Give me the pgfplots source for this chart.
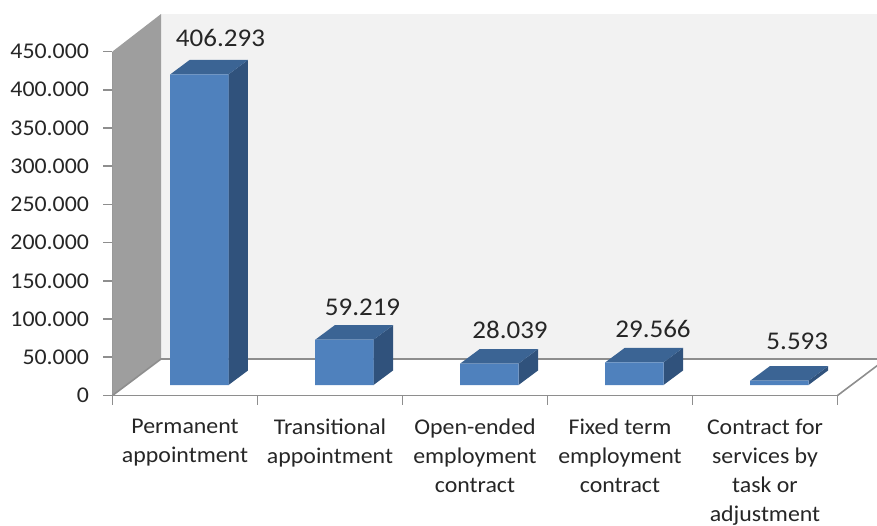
\documentclass[border=0pt]{standalone}
\usepackage{fontspec}
\setmainfont{Carlito}[FakeStretch=1.06]
\usepackage{pgfplots}
\usepackage{pgfplotstable}
\pgfplotsset{compat=1.18}
\definecolor{barfront}{HTML}{4F81BD}
\definecolor{bartop}{HTML}{3B6494}
\definecolor{barside}{HTML}{30527C}
\definecolor{wallback}{HTML}{F2F2F2}
\definecolor{wallleft}{HTML}{9E9E9E}
\definecolor{axisgray}{HTML}{8E8E8E}
\pgfplotstableread{
x v
0.5 406293
1.5 59219
2.5 28039
3.5 29566
4.5 5593
}\bars
\pgfplotstableread{
x v dx dy
0.5 406293 35.5 46.9
1.5 59219 32.5 42.7
2.5 28039 35 44.1
3.5 29566 33 43.9
4.5 5593 32.3 50.2
}\labels
\begin{document}
\begin{tikzpicture}[x=1pt,y=1pt]
\useasboundingbox (0,0) rectangle (877,525);
\clip (0,0) rectangle (877,525);
\begin{axis}[
  at={(112.5pt,129.5pt)}, anchor=south west,
  scale only axis, width=725pt, height=344pt,
  xmin=0, xmax=5, ymin=0, ymax=450000,
  clip=false,
  axis x line*=bottom, axis y line*=left,
  axis line style={draw=axisgray, line width=1.6pt, -},
  ytick={0,50000,...,450000},
  scaled y ticks=false,
  xtick={0.5,1.5,2.5,3.5,4.5},
  xticklabels={Permanent\\appointment,Transitional\\appointment,Open-ended\\employment\\contract,Fixed term\\employment\\contract,Contract for\\services by\\task or\\adjustment},
  minor xtick={0,1,2,3,4,5},
  x tick style={draw=none},
  minor x tick style={draw=axisgray, line width=1.6pt},
  y tick style={draw=axisgray, line width=1.6pt},
  major tick length=9pt, minor tick length=9pt,
  tick align=outside,
  yticklabel style={/pgf/number format/fixed,/pgf/number format/precision=0,/pgf/number format/1000 sep={.},/pgf/number format/assume math mode=true,font=\fontsize{22.5}{25}\selectfont,text=black!85,xshift=-11pt},
  xticklabel style={align=center,anchor=north,inner ysep=0pt,font=\fontsize{22.5}{29.2}\selectfont,text=black!85,yshift=-14pt},
]
% walls and floor
\addplot[fill=wallback,draw=none] coordinates {(0.3345,499000)(5.4,499000)(5.4,47750)(0.3345,47750)} -- cycle;
\addplot[fill=wallleft,draw=none] coordinates {(0,450000)(0.3345,499000)(0.3345,47750)(0,0)} -- cycle;
\addplot[draw=axisgray,line width=1.6pt] coordinates {(0,0)(0.3345,47750)(5.4,47750)};
\addplot[draw=axisgray,line width=1.6pt] coordinates {(5,0)(5.3345,47750)};
% bar sides
\addplot[fill=barside,draw=none,xshift=14.35pt,yshift=10.5pt] coordinates {(0.701,0)(0.701,406293)(0.8355,425261)(0.8355,18968)} -- cycle;
\addplot[fill=barside,draw=none,xshift=14.35pt,yshift=10.5pt] coordinates {(1.701,0)(1.701,59219)(1.8355,78187)(1.8355,18968)} -- cycle;
\addplot[fill=barside,draw=none,xshift=14.35pt,yshift=10.5pt] coordinates {(2.701,0)(2.701,28039)(2.8355,47007)(2.8355,18968)} -- cycle;
\addplot[fill=barside,draw=none,xshift=14.35pt,yshift=10.5pt] coordinates {(3.701,0)(3.701,29566)(3.8355,48534)(3.8355,18968)} -- cycle;
\addplot[fill=barside,draw=none,xshift=14.35pt,yshift=10.5pt] coordinates {(4.701,0)(4.701,5593)(4.8355,24561)(4.8355,18968)} -- cycle;
% bar tops
\addplot[fill=bartop,draw=none,xshift=14.35pt,yshift=10.5pt] coordinates {(0.299,406293)(0.701,406293)(0.8355,425261)(0.4335,425261)} -- cycle;
\addplot[fill=bartop,draw=none,xshift=14.35pt,yshift=10.5pt] coordinates {(1.299,59219)(1.701,59219)(1.8355,78187)(1.4335,78187)} -- cycle;
\addplot[fill=bartop,draw=none,xshift=14.35pt,yshift=10.5pt] coordinates {(2.299,28039)(2.701,28039)(2.8355,47007)(2.4335,47007)} -- cycle;
\addplot[fill=bartop,draw=none,xshift=14.35pt,yshift=10.5pt] coordinates {(3.299,29566)(3.701,29566)(3.8355,48534)(3.4335,48534)} -- cycle;
\addplot[fill=bartop,draw=none,xshift=14.35pt,yshift=10.5pt] coordinates {(4.299,5593)(4.701,5593)(4.8355,24561)(4.4335,24561)} -- cycle;
% bar fronts
\addplot[ybar,bar width=58.3pt,bar shift=0pt,fill=barfront,draw=none,xshift=14.35pt,yshift=10.5pt] table[x=x,y=v] {\bars};
% value labels
\addplot[draw=none,mark=none,
  visualization depends on={\thisrow{dx} \as \lx},
  visualization depends on={\thisrow{dy} \as \ly},
  point meta=y,
  nodes near coords,
  every node near coord/.style={anchor=center,xshift=\lx pt,yshift=\ly pt,font=\fontsize{25.5}{28}\selectfont,text=black!85,
    /pgf/number format/fixed,/pgf/number format/precision=0,/pgf/number format/1000 sep={.},/pgf/number format/assume math mode=true},
] table[x=x,y=v] {\labels};
\end{axis}
\end{tikzpicture}
\end{document}
